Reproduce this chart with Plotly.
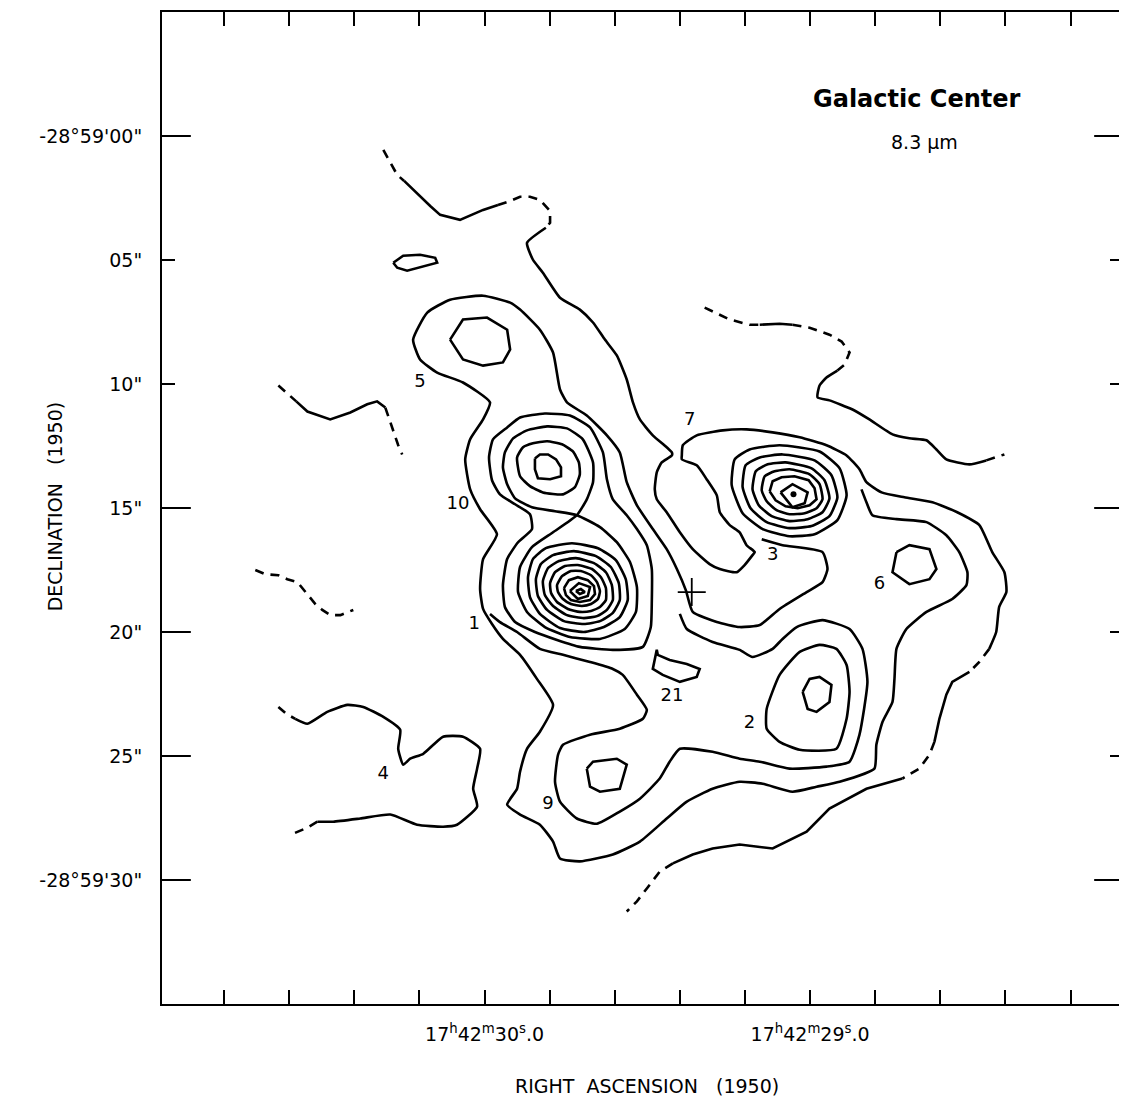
import plotly.graph_objects as go

# ---------------- data (offsets in arcsec from RA 17h42m30.0s, Dec -28d59'00") ----------------
# x = RA offset (arcsec, east positive), y = Dec offset (arcsec)
a1_x = [4.08, 3.80, 3.52, 3.24]
a1_y = [-0.56, -1.09, -1.57, -1.81]
a2_x = [3.24, 2.92, 2.60, 2.19, 1.79, 0.99, 0.06, -0.54]
a2_y = [-1.81, -2.13, -2.41, -2.82, -3.18, -3.38, -2.98, -2.78]
a3_x = [-0.54, -1.03, -1.43, -1.83, -2.23, -2.64, -2.64, -2.47]
a3_y = [-2.78, -2.62, -2.45, -2.45, -2.58, -3.02, -3.50, -3.70]
a4_x = [-2.47, -1.71, -1.95, -2.35, -3.04, -3.84, -4.37, -4.85, -5.33, -5.73, -5.98, -6.26, -6.78, -7.34, -7.55,
        -7.55, -7.14, -6.94, -6.86, -6.94, -7.34, -7.87, -8.39, -9.07, -9.48, -10.16, -10.48, -10.80, -10.89, -10.56,
        -10.28, -9.88, -9.48, -9.36, -8.95, -8.55, -7.95, -7.95, -7.99, -8.55, -9.60, -10.56, -11.61, -12.70, -13.78,
        -14.59, -15.11, -15.39, -16.00, -16.92, -18.05, -19.05, -19.94, -20.46, -20.95, -21.03, -20.74, -20.62, -20.34]
a4_y = [-3.70, -4.31, -4.99, -5.51, -6.52, -7.00, -7.52, -8.21, -8.85, -9.82, -10.74, -11.43, -12.07, -12.55, -12.76,
        -12.88, -13.16, -13.56, -14.25, -14.65, -15.17, -15.98, -16.66, -17.26, -17.46, -17.59, -17.30, -16.90, -16.78, -16.50,
        -15.98, -15.69, -15.17, -14.49, -13.84, -13.28, -13.04, -12.88, -12.47, -12.07, -11.87, -11.83, -11.95, -12.15, -12.47,
        -12.88, -13.44, -13.96, -14.37, -14.57, -14.77, -15.17, -15.69, -16.78, -17.59, -18.39, -18.99, -20.00, -20.68]
a5_x = [-20.34, -19.94, -19.54]
a5_y = [-20.68, -21.21, -21.61]
a6_x = [-19.54, -18.85, -18.61, -18.33, -18.13]
a6_y = [-21.61, -22.01, -22.53, -23.50, -24.43]
a7_x = [-18.13, -17.93, -17.52, -17.12, -16.84]
a7_y = [-24.43, -24.95, -25.51, -25.75, -25.91]
a8_x = [-16.84, -15.39, -13.90, -12.98, -11.61, -10.28, -9.19, -8.39, -7.59]
a8_y = [-25.91, -26.32, -27.12, -28.05, -28.73, -28.57, -28.73, -28.97, -29.33]
a9_x = [-7.59, -7.06, -6.54, -6.14, -5.73]
a9_y = [-29.33, -29.66, -30.34, -30.86, -31.27]

b_x = [-15.19, -15.39, -15.63, -16.60, -17.81, -18.61, -19.13, -19.46, -19.42, -18.85,
       -17.81, -17.00, -16.60, -16.52, -16.44, -16.04, -15.79, -15.71, -14.31, -13.38,
       -12.41, -11.21, -10.28, -9.19, -8.15, -7.34, -6.26, -5.17, -3.84, -3.04,
       -2.76, -2.23, -1.43, -0.91, -1.31, -1.43, -1.71, -2.23, -2.76, -2.11,
       -1.43, -0.74, -0.30, 0.06, 0.18, 0.06, -0.50, 0.18, 0.58, 0.78,
       0.58, 0.06, -0.22, 0.87, 1.91, 2.60, 2.88, 2.31, 1.39, 0.06,
       -1.03, -1.43, -2.23, -2.76, -3.04, -3.32, -4.12, -4.93, -5.45, -5.73,
       -6.14, -6.78, -7.34, -7.75, -8.11, -8.39, -9.36, -10.28, -11.09, -11.89,
       -12.98, -13.62, -13.82, -13.62, -12.01, -11.17]
b_y = [-14.25, -14.77, -15.29, -15.45, -15.57, -16.10, -16.78, -17.59, -18.11, -18.67,
       -19.19, -19.88, -20.68, -21.89, -22.82, -23.62, -24.55, -25.51, -26.04, -26.24,
       -26.44, -26.12, -26.04, -26.32, -26.84, -27.52, -28.45, -28.97, -29.25, -29.13,
       -28.45, -27.77, -27.36, -26.96, -26.32, -25.63, -24.71, -24.02, -22.94, -21.89,
       -20.92, -20.28, -19.68, -19.07, -18.27, -17.06, -16.06, -15.05, -14.25, -13.04,
       -12.23, -11.43, -10.74, -9.94, -9.54, -9.01, -8.21, -7.12, -6.60, -6.44,
       -6.72, -7.00, -7.81, -8.73, -10.22, -10.74, -11.27, -12.07, -12.76, -13.96,
       -14.89, -15.85, -16.66, -17.46, -18.31, -19.19, -19.60, -19.80, -19.72, -19.07,
       -18.39, -17.99, -17.46, -16.78, -16.50, -16.26]

c_x = [-7.87, -8.15, -9.19, -10.28, -10.80, -11.61, -12.01, -12.58, -13.62, -14.71,
       -15.23, -15.43, -15.11, -14.71, -13.78, -12.29, -11.09, -10.28, -9.19, -7.87,
       -7.46, -7.06, -6.26, -5.45, -4.53, -3.72, -3.04, -2.84, -2.96, -3.16,
       -4.25, -5.45, -6.38, -6.54, -6.14, -5.57, -5.17, -4.25, -3.16, -2.23,
       -1.31, -0.62, -0.22]
c_y = [-19.27, -19.88, -20.40, -20.72, -21.01, -20.68, -20.28, -19.80, -19.52, -19.88,
       -20.68, -22.01, -24.14, -25.23, -25.43, -25.51, -25.23, -25.11, -24.83, -24.71,
       -25.23, -25.91, -26.72, -27.24, -27.73, -27.52, -26.84, -26.04, -24.95, -24.55,
       -24.14, -23.90, -23.50, -23.14, -22.53, -21.73, -21.49, -21.21, -20.92, -20.68,
       -20.00, -19.60, -19.27]

d_x = [-0.91, -1.43, -2.43, -3.44, -4.25, -4.77, -4.93, -5.17, -5.73, -6.14, -6.54, -6.74, -6.74, -6.70, -6.38, -5.17,
       -3.84, -2.92, -2.03, -1.23, -0.82, -0.74, -0.91, -1.35, -1.91, -1.83, -1.23, -0.62, -0.30, -0.18, -0.34, -0.91]
d_y = [-11.75, -11.35, -11.19, -11.27, -11.75, -12.76, -13.84, -14.65, -15.29, -15.85, -16.50, -17.46, -18.79, -19.80,
       -20.60, -20.72, -20.60, -20.32, -20.00, -19.60, -18.99, -18.11, -17.06, -16.38, -15.85, -15.25, -14.85, -14.45,
       -13.88, -12.96, -12.23, -11.75]

x8_x = [-3.72, -4.12, -4.37, -4.37, -3.96, -3.32, -2.52, -1.71, -1.15, -0.82, -0.74, -0.91, -1.23, -1.91, -2.84, -3.72,
        -4.65, -5.33, -5.86, -6.14, -6.10, -5.65, -4.65, -3.44, -2.43, -1.71, -1.35, -1.43, -1.91, -2.76, -3.72]
x8_y = [-15.29, -14.65, -13.96, -13.16, -12.23, -11.79, -11.71, -11.87, -12.19, -12.76, -13.36, -14.04, -14.61, -14.97,
        -15.13, -15.29, -15.77, -16.38, -17.18, -18.19, -19.19, -19.88, -20.28, -20.20, -19.80, -19.19, -18.39, -17.38,
        -16.58, -15.98, -15.29]

r10b_x = [-1.31, -1.55, -1.95, -2.52, -3.12, -3.56, -3.80, -3.84, -3.64, -3.16, -2.35, -1.83, -1.43, -1.31]
r10b_y = [-12.96, -12.55, -12.39, -12.31, -12.43, -12.72, -13.16, -13.64, -14.16, -14.45, -14.37, -14.12, -13.72, -12.96]
r10a_x = [-2.03, -2.23, -2.56, -2.88, -3.08, -3.08, -2.64, -2.15, -2.03, -2.03]
r10a_y = [-13.00, -12.84, -12.84, -13.04, -13.36, -13.72, -13.84, -13.80, -13.44, -13.00]

r1a_x = [-1.75, -1.95, -2.47, -3.52, -4.57, -5.29, -5.69, -5.77, -5.45, -4.81, -4.00, -3.04, -2.23, -1.83, -1.75]
r1a_y = [-17.79, -17.06, -16.62, -16.42, -16.62, -17.10, -17.87, -18.71, -19.40, -19.80, -20.00, -19.84, -19.27, -18.59, -17.79]
r1b_x = [-2.07, -2.27, -2.76, -3.60, -4.49, -5.09, -5.41, -5.45, -5.17, -4.65, -4.00, -3.20, -2.52, -2.15, -2.07]
r1b_y = [-17.87, -17.26, -16.90, -16.74, -16.94, -17.38, -18.03, -18.71, -19.23, -19.56, -19.68, -19.56, -19.11, -18.55, -17.87]
r1c_x = [-2.35, -2.56, -3.00, -3.68, -4.41, -4.89, -5.13, -5.17, -4.93, -4.53, -4.00, -3.32, -2.76, -2.43, -2.35]
r1c_y = [-17.95, -17.42, -17.14, -17.02, -17.22, -17.59, -18.11, -18.71, -19.11, -19.36, -19.44, -19.32, -18.95, -18.51, -17.95]
r1d_x = [-2.64, -2.84, -3.24, -3.76, -4.33, -4.69, -4.89, -4.89, -4.65, -4.29, -3.84, -3.36, -2.92, -2.68, -2.64]
r1d_y = [-18.03, -17.59, -17.34, -17.30, -17.46, -17.79, -18.23, -18.71, -18.99, -19.15, -19.19, -19.07, -18.79, -18.43, -18.03]
r1e_x = [-2.92, -3.12, -3.48, -3.88, -4.29, -4.53, -4.65, -4.57, -4.29, -3.92, -3.48, -3.16, -2.96, -2.92]
r1e_y = [-18.11, -17.75, -17.54, -17.54, -17.71, -17.99, -18.35, -18.67, -18.87, -18.95, -18.87, -18.67, -18.39, -18.11]
r1f_x = [-3.20, -3.40, -3.76, -4.16, -4.41, -4.45, -4.25, -3.84, -3.48, -3.28, -3.20]
r1f_y = [-18.23, -17.91, -17.79, -17.91, -18.15, -18.47, -18.71, -18.79, -18.71, -18.51, -18.23]
r1g_x = [-3.44, -3.80, -4.25, -4.16, -3.76, -3.44]
r1g_y = [-18.35, -18.03, -18.19, -18.55, -18.67, -18.35]
r1h_x = [-3.68, -3.88, -4.04, -3.84, -3.68]
r1h_y = [-18.35, -18.27, -18.39, -18.47, -18.35]

r3a_x = [-9.96, -10.08, -10.68, -11.89, -13.50, -14.31, -14.59, -14.22, -13.30, -12.29, -11.21, -10.40, -9.96]
r3a_y = [-14.08, -13.04, -12.64, -12.47, -12.72, -13.40, -14.49, -15.49, -16.06, -16.14, -15.85, -15.21, -14.08]
r3b_x = [-10.40, -10.52, -11.09, -12.01, -13.30, -13.98, -14.22, -13.90, -13.18, -12.29, -11.37, -10.72, -10.40]
r3b_y = [-14.16, -13.28, -12.96, -12.84, -13.08, -13.68, -14.57, -15.33, -15.73, -15.81, -15.57, -15.01, -14.16]
r3c_x = [-10.80, -10.93, -11.41, -12.13, -13.18, -13.70, -13.90, -13.62, -13.02, -12.29, -11.57, -11.05, -10.80]
r3c_y = [-14.25, -13.52, -13.24, -13.16, -13.40, -13.88, -14.61, -15.17, -15.45, -15.53, -15.33, -14.89, -14.25]
r3d_x = [-11.17, -11.29, -11.69, -12.29, -13.10, -13.50, -13.62, -13.38, -12.90, -12.29, -11.77, -11.37, -11.17]
r3d_y = [-14.29, -13.72, -13.52, -13.44, -13.64, -14.04, -14.65, -15.01, -15.21, -15.25, -15.09, -14.73, -14.29]
r3e_x = [-11.49, -11.61, -11.97, -12.49, -13.06, -13.30, -13.38, -13.10, -12.62, -12.13, -11.73, -11.49]
r3e_y = [-14.33, -13.92, -13.76, -13.72, -13.88, -14.20, -14.65, -14.89, -15.01, -14.93, -14.69, -14.33]
r3f_x = [-11.93, -12.41, -13.02, -12.90, -12.41, -11.93]
r3f_y = [-14.37, -14.04, -14.37, -14.81, -14.97, -14.37]
peak3_x = [-12.45]
peak3_y = [-14.45]

r5_x = [1.39, 0.87, -0.10, -0.91, -1.03, -0.74, 0.06, 0.87, 1.39]
r5_y = [-8.21, -7.40, -7.32, -7.81, -8.61, -9.13, -9.26, -9.01, -8.21]
oval_x = [3.68, 3.28, 2.60, 1.99, 1.91, 2.47, 3.12, 3.52, 3.68]
oval_y = [-5.11, -4.83, -4.79, -4.91, -5.11, -5.27, -5.43, -5.31, -5.11]

w1a_x = [8.31, 7.99, 7.59]
w1a_y = [-10.06, -10.34, -10.70]
w1b_x = [7.59, 7.14, 6.22, 5.41, 4.73, 4.33, 4.00]
w1b_y = [-10.70, -11.11, -11.43, -11.15, -10.82, -10.70, -10.95]
w1c_x = [4.00, 3.80, 3.64, 3.48, 3.32]
w1c_y = [-10.95, -11.55, -12.07, -12.47, -12.84]
w2_x = [9.24, 8.83, 8.31, 7.95, 7.54, 7.30, 6.82, 6.54, 6.22, 5.81, 5.29]
w2_y = [-17.50, -17.67, -17.71, -17.87, -17.99, -18.27, -18.87, -19.11, -19.32, -19.32, -19.11]
w3a_x = [8.31, 7.99, 7.63]
w3a_y = [-23.02, -23.30, -23.50]
w3b_x = [7.63, 7.14, 6.34, 5.53, 4.89, 4.08, 3.40, 3.48, 3.28, 3.00, 2.47, 1.67, 0.87, 0.18, 0.30, 0.46, 0.30, 1.11,
         1.67, 2.72, 3.80, 5.01, 6.10, 6.74]
w3b_y = [-23.50, -23.70, -23.22, -22.94, -23.02, -23.42, -23.94, -24.71, -25.35, -25.11, -24.91, -24.22, -24.22, -24.71,
         -25.51, -26.32, -27.04, -27.77, -27.85, -27.77, -27.36, -27.52, -27.65, -27.65]
w3c_x = [6.74, 7.14, 7.71]
w3c_y = [-27.65, -27.89, -28.13]

r21_x = [-6.94, -6.78, -7.18, -7.87, -8.55, -8.67, -8.15, -7.46, -6.98, -6.94]
r21_y = [-20.72, -21.49, -21.73, -22.01, -21.81, -21.49, -21.29, -21.13, -20.92, -20.72]
r9_x = [-4.12, -4.37, -5.33, -5.73, -5.45, -4.65, -4.25, -4.12]
r9_y = [-25.51, -25.23, -25.11, -25.35, -26.32, -26.44, -26.24, -25.51]
r6_x = [-16.60, -17.12, -17.93, -18.21, -17.93, -17.12, -16.44, -16.60]
r6_y = [-16.78, -16.50, -16.66, -17.46, -17.87, -18.07, -17.59, -16.78]
r2a_x = [-12.82, -13.10, -13.50, -13.98, -13.90, -13.38, -13.02, -12.82]
r2a_y = [-22.41, -21.89, -21.81, -22.13, -22.82, -23.22, -23.10, -22.41]
r2b_x = [-11.37, -11.89, -12.70, -13.50, -14.18, -14.59, -14.71, -14.59, -14.18, -12.70, -11.89, -11.37, -11.37]
r2b_y = [-23.10, -21.73, -20.80, -20.52, -20.68, -21.33, -22.41, -23.50, -24.71, -24.75, -24.43, -23.90, -23.10]

e1_x = [-8.87, -9.28, -9.88, -10.68, -11.09]
e1_y = [-6.92, -7.12, -7.40, -7.61, -7.61]
e2_x = [-11.09, -11.89, -12.41]
e2_y = [-7.61, -7.57, -7.61]
e3_x = [-12.41, -13.10, -13.90, -14.39, -14.71, -14.51, -14.22]
e3_y = [-7.61, -7.73, -8.01, -8.29, -8.73, -9.22, -9.46]
e4_x = [-14.22, -13.78, -13.50, -13.42, -13.90, -14.83, -15.51, -16.44, -17.12, -17.81, -18.21, -18.61, -19.54, -20.22]
e4_y = [-9.46, -9.74, -10.06, -10.54, -10.66, -11.03, -11.43, -12.03, -12.19, -12.27, -12.64, -13.04, -13.24, -13.08]
e5_x = [-20.22, -20.95]
e5_y = [-13.08, -12.84]

source_names = ["5", "10", "1", "7", "3", "6", "21", "2", "4", "9"]
source_x = [2.60, 1.07, 0.42, -8.27, -11.61, -15.92, -7.55, -10.68, 4.08, -2.56]
source_y = [-9.94, -14.85, -19.68, -11.47, -16.90, -18.07, -22.61, -23.70, -25.75, -26.96]
sgra_x = [-8.35]
sgra_y = [-18.39]

ra_label_seconds = [30.0, 29.0]
ra_label_text = ["17<sup>h</sup>42<sup>m</sup>30<sup>s</sup>.0", "17<sup>h</sup>42<sup>m</sup>29<sup>s</sup>.0"]
ra_minor_seconds = [30.8, 30.6, 30.4, 30.2, 29.8, 29.6, 29.4, 29.2, 28.8, 28.6, 28.4, 28.2]
arcsec_per_second = 13.12
dec_tick_vals = [0, -5, -10, -15, -20, -25, -30]
dec_tick_text = ["-28\u00b059'00\"", "05\"", "10\"", "15\"", "20\"", "25\"", "-28\u00b059'30\""]
left_long_ticks = [0, -15, -20, -25, -30]
right_long_ticks = [0, -15, -30]

# ---------------- figure ----------------
segments = [
    (a1_x, a1_y, "dash"), (a2_x, a2_y, "solid"), (a3_x, a3_y, "dash"), (a4_x, a4_y, "solid"),
    (a5_x, a5_y, "dash"), (a6_x, a6_y, "solid"), (a7_x, a7_y, "dash"), (a8_x, a8_y, "solid"), (a9_x, a9_y, "dash"),
    (b_x, b_y, "solid"), (c_x, c_y, "solid"), (d_x, d_y, "solid"), (x8_x, x8_y, "solid"),
    (r10b_x, r10b_y, "solid"), (r10a_x, r10a_y, "solid"),
    (r1a_x, r1a_y, "solid"), (r1b_x, r1b_y, "solid"), (r1c_x, r1c_y, "solid"), (r1d_x, r1d_y, "solid"),
    (r1e_x, r1e_y, "solid"), (r1f_x, r1f_y, "solid"), (r1g_x, r1g_y, "solid"), (r1h_x, r1h_y, "solid"),
    (r3a_x, r3a_y, "solid"), (r3b_x, r3b_y, "solid"), (r3c_x, r3c_y, "solid"), (r3d_x, r3d_y, "solid"),
    (r3e_x, r3e_y, "solid"), (r3f_x, r3f_y, "solid"),
    (r5_x, r5_y, "solid"), (oval_x, oval_y, "solid"),
    (w1a_x, w1a_y, "dash"), (w1b_x, w1b_y, "solid"), (w1c_x, w1c_y, "dash"), (w2_x, w2_y, "dash"),
    (w3a_x, w3a_y, "dash"), (w3b_x, w3b_y, "solid"), (w3c_x, w3c_y, "dash"),
    (r21_x, r21_y, "solid"), (r9_x, r9_y, "solid"), (r6_x, r6_y, "solid"), (r2a_x, r2a_y, "solid"), (r2b_x, r2b_y, "solid"),
    (e1_x, e1_y, "dash"), (e2_x, e2_y, "solid"), (e3_x, e3_y, "dash"), (e4_x, e4_y, "solid"), (e5_x, e5_y, "dash"),
]

fig = go.Figure()
for xs, ys, style in segments:
    smooth = len(xs) > 12
    fig.add_trace(go.Scatter(
        x=xs, y=ys, mode="lines",
        line=dict(color="black", width=2.6,
                  dash="9px,7px" if style == "dash" else "solid",
                  shape="spline" if smooth else "linear",
                  smoothing=0.5 if smooth else None),
        hoverinfo="skip", showlegend=False))

fig.add_trace(go.Scatter(x=peak3_x, y=peak3_y, mode="markers",
                         marker=dict(color="black", size=6), hoverinfo="skip", showlegend=False))
fig.add_trace(go.Scatter(x=sgra_x, y=sgra_y, mode="markers",
                         marker=dict(symbol="cross-thin", size=20, line=dict(color="black", width=1.8)),
                         hoverinfo="skip", showlegend=False))
fig.add_trace(go.Scatter(x=source_x, y=source_y, mode="text", text=source_names,
                         textfont=dict(family="DejaVu Sans", size=18, color="black"),
                         hoverinfo="skip", showlegend=False))

ra_label_vals = [(s - 30.0) * arcsec_per_second for s in ra_label_seconds]
ra_minor_vals = [(s - 30.0) * arcsec_per_second for s in ra_minor_seconds]

tick_font = dict(family="DejaVu Sans", size=19, color="black")
fig.update_xaxes(range=[13.0, -25.73], tickmode="array", tickvals=ra_label_vals, ticktext=ra_label_text,
                 ticks="inside", ticklen=14, tickwidth=2, tickcolor="black",
                 minor=dict(tickmode="array", tickvals=ra_minor_vals, ticks="inside", ticklen=14,
                            tickwidth=2, tickcolor="black", showgrid=False),
                 showline=True, linewidth=2, linecolor="black", mirror="ticks",
                 showgrid=False, zeroline=False, tickfont=tick_font, ticklabelstandoff=12)
fig.update_yaxes(range=[-35, 5], tickvals=dec_tick_vals, ticktext=dec_tick_text,
                 ticks="inside", ticklen=13, tickwidth=2, tickcolor="black",
                 showline=True, linewidth=2, linecolor="black", mirror="ticks",
                 showgrid=False, zeroline=False, tickfont=tick_font, ticklabelstandoff=14)

shapes = []
for v in left_long_ticks:
    shapes.append(dict(type="line", xref="x domain", yref="y", x0=0, x1=0.03, y0=v, y1=v,
                       line=dict(color="black", width=2)))
for v in right_long_ticks:
    shapes.append(dict(type="line", xref="x domain", yref="y", x0=0.97, x1=1, y0=v, y1=v,
                       line=dict(color="black", width=2)))

annotations = [
    dict(text="<b>Galactic Center</b>", xref="paper", yref="paper", x=0.786, y=0.9125, showarrow=False,
         font=dict(family="DejaVu Sans", size=24, color="black"), xanchor="center", yanchor="middle"),
    dict(text="8.3 \u03bcm", xref="paper", yref="paper", x=0.793, y=0.869, showarrow=False,
         font=dict(family="DejaVu Sans", size=19, color="black"), xanchor="center", yanchor="middle"),
    dict(text="RIGHT  ASCENSION   (1950)", xref="paper", yref="paper", x=0.505, y=-0.083, showarrow=False,
         font=dict(family="DejaVu Sans", size=19, color="black"), xanchor="center", yanchor="middle"),
    dict(text="DECLINATION   (1950)", xref="paper", yref="paper", x=-0.111, y=0.502, showarrow=False,
         textangle=-90, font=dict(family="DejaVu Sans", size=19, color="black"),
         xanchor="center", yanchor="middle"),
]

# page body keeps an 8px default margin, so the figure is 8px smaller and its margins shifted
fig.update_layout(width=1119, height=1095, margin=dict(l=154, r=3, t=2, b=99),
                  plot_bgcolor="white", paper_bgcolor="white",
                  shapes=shapes, annotations=annotations, showlegend=False)

fig.write_html("out.html")
